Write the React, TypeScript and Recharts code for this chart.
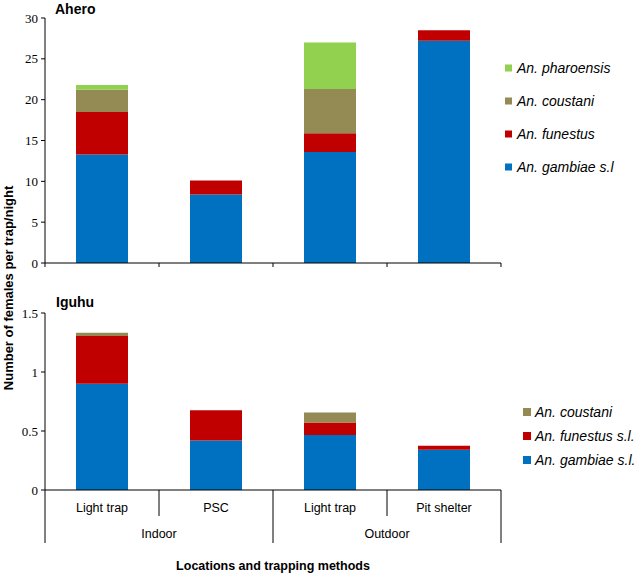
import React from 'react';
import { BarChart, Bar, XAxis, YAxis } from 'recharts';

// ---- Data ----
const methods = ['Light trap', 'PSC', 'Light trap', 'Pit shelter'];
const locations = ['Indoor', 'Indoor', 'Outdoor', 'Outdoor'];

// Ahero (top panel)
const aheroGambiae = [13.3, 8.4, 13.6, 27.2];
const aheroFunestus = [5.2, 1.7, 2.3, 1.3];
const aheroCoustani = [2.7, 0, 5.4, 0];
const aheroPharoensis = [0.6, 0, 5.7, 0];
const aheroTicks = [0, 5, 10, 15, 20, 25, 30];

// Iguhu (bottom panel)
const iguhuGambiae = [0.9, 0.42, 0.466, 0.342];
const iguhuFunestus = [0.405, 0.255, 0.107, 0.033];
const iguhuCoustani = [0.028, 0, 0.084, 0];
const iguhuTicks = [0, 0.5, 1, 1.5];

const aheroLegend = ['An. pharoensis', 'An. coustani', 'An. funestus', 'An. gambiae s.l'];
const iguhuLegend = ['An. coustani', 'An. funestus s.l.', 'An. gambiae s.l.'];

const BLUE = '#0070C0';
const RED = '#C00000';
const OLIVE = '#948A54';
const GREEN = '#92D050';

const keys = methods.map((m, i) => `${locations[i]} ${m}`);

const aheroData = keys.map((k, i) => ({
  key: k,
  gambiae: aheroGambiae[i],
  funestus: aheroFunestus[i],
  coustani: aheroCoustani[i],
  pharoensis: aheroPharoensis[i],
}));

const iguhuData = keys.map((k, i) => ({
  key: k,
  gambiae: iguhuGambiae[i],
  funestus: iguhuFunestus[i],
  coustani: iguhuCoustani[i],
}));

const serifTick = { fontFamily: '"Liberation Serif", serif', fontSize: 13, fill: '#000' };
const sans = '"Liberation Sans", Arial, sans-serif';

const TopTick = (props: any) => {
  const { x, y, payload, index } = props;
  const half = payload && typeof payload.offset === 'number' && payload.offset > 0 ? payload.offset : 57;
  const left = x - half;
  const right = x + half;
  const isLast = index === methods.length - 1;
  return (
    <g>
      <line x1={left} x2={left} y1={y} y2={y + 4} stroke="#000" />
      {isLast && <line x1={right} x2={right} y1={y} y2={y + 4} stroke="#000" />}
    </g>
  );
};

const BottomTick = (props: any) => {
  const { x, y, payload, index } = props;
  const half = payload && typeof payload.offset === 'number' && payload.offset > 0 ? payload.offset : 57;
  const left = x - half;
  const right = x + half;
  const isGroupStart = index === 0 || locations[index] !== locations[index - 1];
  const isLast = index === methods.length - 1;
  let group = null;
  if (isGroupStart) {
    let n = 1;
    while (index + n < locations.length && locations[index + n] === locations[index]) n++;
    group = (
      <text x={left + half * n} y={y + 48} textAnchor="middle" fontFamily={sans} fontSize={12.5} fill="#000">
        {locations[index]}
      </text>
    );
  }
  return (
    <g>
      <line x1={left} x2={left} y1={y} y2={y + (isGroupStart ? 53 : 26)} stroke="#000" />
      {isLast && <line x1={right} x2={right} y1={y} y2={y + 53} stroke="#000" />}
      <text x={x} y={y + 22} textAnchor="middle" fontFamily={sans} fontSize={12.5} fill="#000">
        {methods[index]}
      </text>
      {group}
    </g>
  );
};

const aheroColors: Record<string, string> = {
  'An. pharoensis': GREEN,
  'An. coustani': OLIVE,
  'An. funestus': RED,
  'An. gambiae s.l': BLUE,
};
const iguhuColors: Record<string, string> = {
  'An. coustani': OLIVE,
  'An. funestus s.l.': RED,
  'An. gambiae s.l.': BLUE,
};

export default function App() {
  return (
    <div style={{ position: 'absolute', left: 0, top: 0, width: 638, height: 580, background: '#fff' }}>
      <div style={{ position: 'absolute', left: 0, top: 0 }}>
        <BarChart width={638} height={290} data={aheroData} margin={{ top: 18, right: 137, left: 0, bottom: 17 }} barSize={52}>
          <XAxis
            dataKey="key"
            height={10}
            tickLine={false}
            tickSize={0}
            tickMargin={0}
            axisLine={{ stroke: '#000' }}
            tick={<TopTick />}
            interval={0}
          />
          <YAxis
            width={45}
            domain={[0, 30]}
            ticks={aheroTicks}
            tickSize={4}
            tickMargin={3}
            axisLine={{ stroke: '#000' }}
            tickLine={{ stroke: '#000' }}
            tick={serifTick}
            interval={0}
          />
          <Bar dataKey="gambiae" stackId="a" fill={BLUE} isAnimationActive={false} />
          <Bar dataKey="funestus" stackId="a" fill={RED} isAnimationActive={false} />
          <Bar dataKey="coustani" stackId="a" fill={OLIVE} isAnimationActive={false} />
          <Bar dataKey="pharoensis" stackId="a" fill={GREEN} isAnimationActive={false} />
        </BarChart>
      </div>
      <div style={{ position: 'absolute', left: 0, top: 290 }}>
        <BarChart width={638} height={290} data={iguhuData} margin={{ top: 23, right: 137, left: 0, bottom: 6 }} barSize={52}>
          <XAxis
            dataKey="key"
            height={84}
            tickLine={false}
            tickSize={0}
            tickMargin={0}
            axisLine={{ stroke: '#000' }}
            tick={<BottomTick />}
            interval={0}
            label={{
              value: 'Locations and trapping methods',
              position: 'insideBottom',
              offset: 4,
              style: { fontFamily: sans, fontSize: 12.5, fontWeight: 'bold', fill: '#000' },
            }}
          />
          <YAxis
            width={45}
            domain={[0, 1.5]}
            ticks={iguhuTicks}
            tickSize={4}
            tickMargin={3}
            axisLine={{ stroke: '#000' }}
            tickLine={{ stroke: '#000' }}
            tick={serifTick}
            interval={0}
          />
          <Bar dataKey="gambiae" stackId="b" fill={BLUE} isAnimationActive={false} />
          <Bar dataKey="funestus" stackId="b" fill={RED} isAnimationActive={false} />
          <Bar dataKey="coustani" stackId="b" fill={OLIVE} isAnimationActive={false} />
        </BarChart>
      </div>
      <svg
        width={638}
        height={580}
        style={{ position: 'absolute', left: 0, top: 0, pointerEvents: 'none' }}
      >
        <text
          transform="translate(13,288) rotate(-90)"
          textAnchor="middle"
          fontFamily={sans}
          fontSize={13}
          fontWeight="bold"
          fill="#000"
        >
          Number of females per trap/night
        </text>
        <text x={55} y={14} fontFamily={sans} fontSize={14} fontWeight="bold" fill="#000">
          Ahero
        </text>
        <text x={56} y={307} fontFamily={sans} fontSize={14} fontWeight="bold" fill="#000">
          Iguhu
        </text>
        {aheroLegend.map((name, i) => (
          <g key={name}>
            <rect x={505} y={68 + i * 33 - 3.5} width={7} height={7} fill={aheroColors[name]} />
            <text x={517} y={68 + i * 33 + 5} fontFamily={sans} fontSize={14} fontStyle="italic" fill="#000">
              {name}
            </text>
          </g>
        ))}
        {iguhuLegend.map((name, i) => (
          <g key={name}>
            <rect x={523} y={412 + i * 24 - 4} width={8} height={8} fill={iguhuColors[name]} />
            <text x={535} y={412 + i * 24 + 5} fontFamily={sans} fontSize={14} fontStyle="italic" fill="#000">
              {name}
            </text>
          </g>
        ))}
      </svg>
    </div>
  );
}
